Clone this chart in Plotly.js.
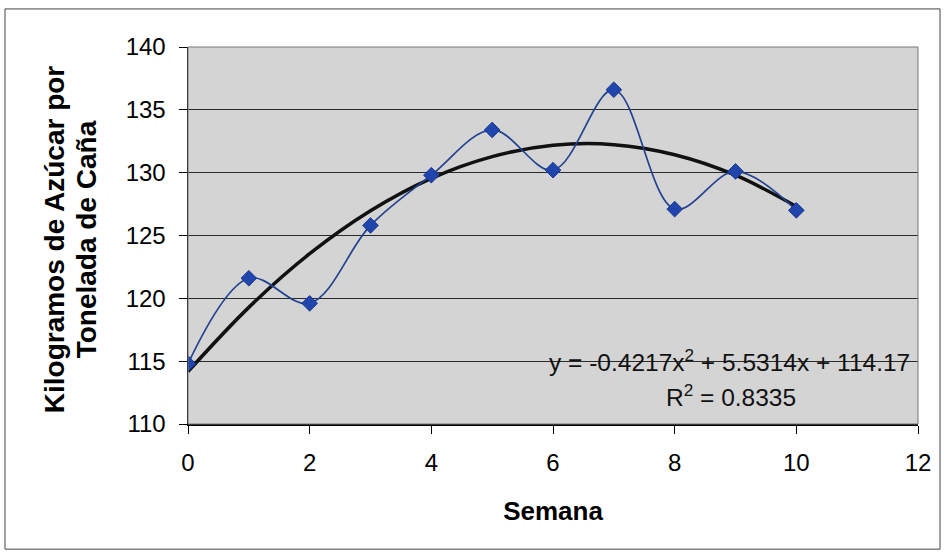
<!DOCTYPE html>
<html>
<head>
<meta charset="utf-8">
<script src="https://cdn.plot.ly/plotly-3.0.1.min.js"></script>
<style>html,body{margin:0;padding:0;background:#fff;}#chart{width:944px;height:557px;}</style>
</head>
<body>
<div id="chart"></div>
<script>
// Data
var semana = [0, 1, 2, 3, 4, 5, 6, 7, 8, 9, 10];
var kgAzucar = [114.8, 121.6, 119.6, 125.8, 129.8, 133.4, 130.2, 136.6, 127.1, 130.1, 127.0];
// Polynomial trend line (as drawn in the picture)
var trendX = [0, 1, 2, 3, 4, 5, 6, 7, 8, 9, 10];
var trendY = [114.17, 119.28, 123.55, 126.97, 129.55, 131.28, 132.18, 132.23, 131.43, 129.80, 127.31];
var yTicks = [110, 115, 120, 125, 130, 135, 140];
var xTicks = [0, 2, 4, 6, 8, 10, 12];
var xTitle = 'Semana';
var yTitleLines = ['Kilogramos de Azúcar por', 'Tonelada de Caña'];
var eqText = 'y = -0.4217x<sup>2</sup> + 5.5314x + 114.17';
var r2Text = 'R<sup>2</sup> = 0.8335';

var traces = [
  {
    x: trendX, y: trendY, type: 'scatter', mode: 'lines',
    line: {color: '#111111', width: 3.5, shape: 'spline'},
    hoverinfo: 'skip', showlegend: false
  },
  {
    x: semana, y: kgAzucar, type: 'scatter', mode: 'lines+markers',
    line: {color: '#22428f', width: 1.7, shape: 'spline', smoothing: 1},
    marker: {symbol: 'diamond', size: 12, color: '#2046ad', line: {color: '#1a3590', width: 1}},
    showlegend: false
  }
];

var layout = {
  width: 944, height: 557,
  paper_bgcolor: '#ffffff',
  plot_bgcolor: '#d4d4d4',
  margin: {l: 188, r: 26, t: 47, b: 133},
  font: {family: 'Arial, Liberation Sans, sans-serif', color: '#000'},
  showlegend: false,
  xaxis: {
    range: [0, 12], tickvals: xTicks, ticktext: xTicks.map(String),
    showgrid: false, zeroline: false,
    showline: true, linecolor: '#000', linewidth: 1.5,
    ticks: 'outside', ticklen: 8, tickcolor: '#000', tickwidth: 1,
    tickfont: {size: 24, color: '#000'},
    ticklabelstandoff: 9,
    title: {text: '<b>' + xTitle + '</b>', font: {size: 26, color: '#000'}, standoff: 26}
  },
  yaxis: {
    range: [110, 140], tickvals: yTicks, ticktext: yTicks.map(String),
    showgrid: true, gridcolor: '#2a2a2a', gridwidth: 1.2,
    zeroline: false,
    showline: true, linecolor: '#000', linewidth: 1.5,
    ticks: 'outside', ticklen: 8, tickcolor: '#000', tickwidth: 1,
    tickfont: {size: 24, color: '#000'},
    ticklabelstandoff: 8
  },
  shapes: [
    {type: 'rect', xref: 'paper', yref: 'paper', x0: 0, x1: 1, y0: 0, y1: 1,
     line: {color: '#777777', width: 1}, fillcolor: 'rgba(0,0,0,0)', layer: 'above'},
    {type: 'rect', xref: 'paper', yref: 'paper', x0: -0.2507, x1: 1.0302, y0: -0.332, y1: 1.101,
     line: {color: '#444444', width: 1}, fillcolor: 'rgba(0,0,0,0)'}
  ],
  annotations: [
    {xref: 'paper', yref: 'paper', x: -0.1836, y: 0.49, text: '<b>' + yTitleLines[0] + '</b>', textangle: -90,
     showarrow: false, font: {size: 28, color: '#000'}, xanchor: 'center', yanchor: 'middle'},
    {xref: 'paper', yref: 'paper', x: -0.1397, y: 0.49, text: '<b>' + yTitleLines[1] + '</b>', textangle: -90,
     showarrow: false, font: {size: 28, color: '#000'}, xanchor: 'center', yanchor: 'middle'},
    {xref: 'x', yref: 'y', x: 8.9, y: 115.05, text: eqText, showarrow: false,
     font: {size: 24.5, color: '#111'}, xanchor: 'center', yanchor: 'middle'},
    {xref: 'x', yref: 'y', x: 8.93, y: 112.25, text: r2Text, showarrow: false,
     font: {size: 24.5, color: '#111'}, xanchor: 'center', yanchor: 'middle'}
  ]
};

Plotly.newPlot('chart', traces, layout, {displayModeBar: false, staticPlot: true});
</script>
</body>
</html>
